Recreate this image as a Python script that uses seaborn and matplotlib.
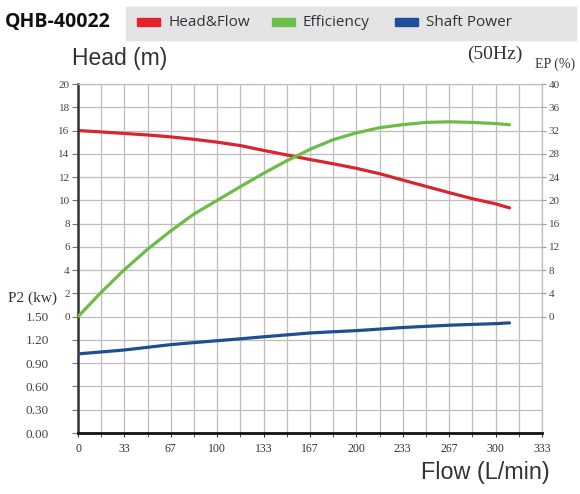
import numpy as np
import pandas as pd
import matplotlib
matplotlib.use("Agg")
import matplotlib.pyplot as plt
from matplotlib.patches import Rectangle
import seaborn as sns

# values
flow = [0, 16.7, 33, 50, 67, 83, 100, 117, 133, 150, 167, 183, 200, 217, 233,
        250, 267, 283, 300, 310]
head = [16.0, 15.88, 15.75, 15.62, 15.45, 15.25, 15.0, 14.7, 14.3, 13.9, 13.5,
        13.15, 12.75, 12.28, 11.75, 11.2, 10.65, 10.15, 9.7, 9.35]
efficiency = [0, 4.2, 8.0, 11.6, 14.8, 17.6, 20.0, 22.4, 24.6, 26.8, 28.8, 30.4,
              31.6, 32.5, 33.0, 33.4, 33.5, 33.4, 33.2, 33.0]
power = [1.02, 1.045, 1.07, 1.105, 1.14, 1.165, 1.19, 1.215, 1.24, 1.265, 1.29,
         1.305, 1.32, 1.34, 1.36, 1.375, 1.39, 1.40, 1.41, 1.42]

head_ticks = list(range(0, 21, 2))
ep_ticks = list(range(0, 41, 4))
power_ticks = [0.0, 0.3, 0.6, 0.9, 1.2, 1.5]
flow_ticks = [0, 33, 67, 100, 133, 167, 200, 233, 267, 300, 333]

series_names = ["Head&Flow", "Efficiency", "Shaft Power"]
series_colors = ["#e3232b", "#6cbf4a", "#1d4f9c"]
line_colors = ["#d8262e", "#6cbd45", "#1f4f93"]

df = pd.DataFrame({"flow": flow, "head": head, "eff": efficiency, "power": power})

sns.set_style("white")
plt.rcParams["font.family"] = ["Liberation Serif", "DejaVu Serif"]

fig = plt.figure(figsize=(5.8, 4.94), dpi=100)
ax = fig.add_axes([78 / 580, 61 / 494, 464 / 580, 349 / 494])
ax_e = ax.twinx()
ax_p = ax.twinx()

grid_c = "#bdbdbd"
ax.set_xlim(0, 1000 / 3)
ax.set_ylim(-10, 20)
ax_e.set_ylim(-20, 40)
ax_p.set_ylim(0, 4.5)

xt = [i * 100 / 3 for i in range(11)]
ax.set_xticks(xt)
ax.set_xticklabels([str(v) for v in flow_ticks])
ax.set_xticks([i * 100 / 3 + 50 / 3 for i in range(10)], minor=True)
ax.set_yticks(list(range(-10, 21, 2)))
ax.set_yticklabels(["" if v < 0 else str(v) for v in range(-10, 21, 2)])
ax.grid(True, which="both", color=grid_c, lw=0.9)
ax.tick_params(axis="x", which="both", direction="out", length=3, color="#333333",
               labelsize=8.5, labelcolor="#333333", pad=4, bottom=True)
ax.tick_params(axis="y", direction="out", length=4, color="#777777",
               labelsize=8, labelcolor="#444444", pad=2, left=True)

for s in ["top", "right"]:
    ax.spines[s].set_color(grid_c)
    ax.spines[s].set_linewidth(0.9)
ax.spines["left"].set_color("#333333")
ax.spines["left"].set_linewidth(1.8)
ax.spines["bottom"].set_color("#111111")
ax.spines["bottom"].set_linewidth(2.0)

for a in (ax_e, ax_p):
    for s in a.spines.values():
        s.set_visible(False)

ax_e.set_yticks(ep_ticks)
ax_e.tick_params(axis="y", direction="out", length=3, color="#999999",
                 labelsize=8, labelcolor="#444444", pad=2)

ax_p.yaxis.set_ticks_position("left")
ax_p.set_yticks(power_ticks)
ax_p.set_yticklabels([f"{v:.2f}" for v in power_ticks])
ax_p.tick_params(axis="y", length=0, labelsize=9.5, labelcolor="#444444", pad=21)

sns.lineplot(data=df, x="flow", y="head", ax=ax, color=line_colors[0], lw=2.3)
sns.lineplot(data=df, x="flow", y="eff", ax=ax_e, color=line_colors[1], lw=2.3)
sns.lineplot(data=df, x="flow", y="power", ax=ax_p, color=line_colors[2], lw=2.3)
for a in (ax, ax_e, ax_p):
    a.set_xlabel("")
    a.set_ylabel("")

# header and legend strip
fig.text(5 / 580, 1 - 22 / 494, "QHB-40022", fontsize=14, fontweight="bold",
         family=["Open Sans", "DejaVu Sans"], va="center", ha="left", color="#111111")
fig.patches.append(Rectangle((126 / 580, 1 - 40 / 494), 450 / 580, 33 / 494,
                             transform=fig.transFigure, color="#e4e4e6", zorder=0))
leg_x = [137, 272, 395]
for x0, name, c in zip(leg_x, series_names, series_colors):
    fig.patches.append(Rectangle((x0 / 580, 1 - 26 / 494), 23 / 580, 8 / 494,
                                 transform=fig.transFigure, color=c))
    fig.text((x0 + 31) / 580, 1 - 22 / 494, name, fontsize=11,
             family=["Open Sans", "DejaVu Sans"], va="center", ha="left", color="#333333")

narrow = ["Liberation Sans Narrow", "Liberation Sans", "DejaVu Sans"]
fig.text(72 / 580, 1 - 58 / 494, "Head (m)", fontsize=16.5, family=narrow,
         va="center", ha="left", color="#333333")
fig.text(550 / 580, 1 - 472 / 494, "Flow (L/min)", fontsize=16.8, family=narrow,
         va="center", ha="right", color="#333333")
fig.text(522 / 580, 1 - 54 / 494, "(50Hz)", fontsize=14, va="center", ha="right",
         color="#333333")
fig.text(575 / 580, 1 - 64 / 494, "EP (%)", fontsize=10, va="center", ha="right",
         color="#333333")
fig.text(8 / 580, 1 - 298 / 494, "P2 (kw)", fontsize=11, va="center", ha="left",
         color="#333333")

fig.savefig("out.png", dpi=100)
